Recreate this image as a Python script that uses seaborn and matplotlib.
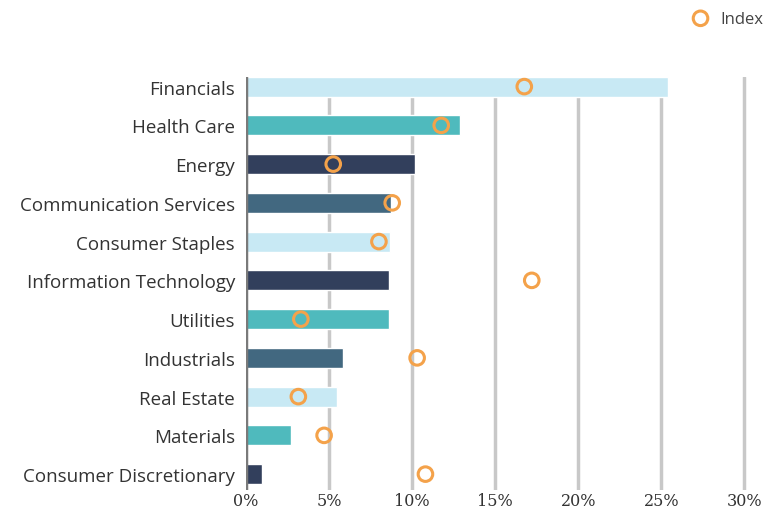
import seaborn as sns
import pandas as pd
import matplotlib.pyplot as plt

sectors = ["Financials", "Health Care", "Energy", "Communication Services",
           "Consumer Staples", "Information Technology", "Utilities",
           "Industrials", "Real Estate", "Materials", "Consumer Discretionary"]
fund = [25.4, 12.9, 10.2, 8.75, 8.65, 8.6, 8.6, 5.85, 5.5, 2.7, 0.95]
index = [16.75, 11.75, 5.25, 8.8, 8.0, 17.2, 3.3, 10.3, 3.15, 4.7, 10.8]
bar_colors = ["#c8e9f4", "#4fbabd", "#323f5c", "#426880",
              "#c8e9f4", "#323f5c", "#4fbabd", "#426880",
              "#c8e9f4", "#4fbabd", "#323f5c"]
xticks = [0, 5, 10, 15, 20, 25, 30]

df = pd.DataFrame({"sector": sectors, "fund": fund, "index": index})

sns.set_theme(style="white")
plt.rcParams["font.family"] = ["Open Sans", "DejaVu Sans"]

fig = plt.figure(figsize=(7.65, 5.10), dpi=100)
ax = fig.add_axes([0.3216, 0.038, 0.658, 0.810])

sns.barplot(data=df, x="fund", y="sector", hue="sector", palette=bar_colors,
            legend=False, width=0.52, saturation=1, ax=ax, zorder=2)
sns.scatterplot(data=df, x="index", y="sector", ax=ax, s=110,
                facecolor="none", edgecolor="#f4a24a", linewidth=2.2,
                zorder=4, label="Index")

ax.set_xlim(0, 30.3)
ax.set_ylim(10.4, -0.26)
ax.set_xticks(xticks)
ax.set_xticklabels([f"{t}%" for t in xticks], family="DejaVu Serif",
                   fontsize=11.5, color="#333333")
ax.tick_params(axis="y", labelsize=13.5, labelcolor="#333333", length=0, pad=8)
ax.tick_params(axis="x", length=0, pad=2)
ax.set_xlabel("")
ax.set_ylabel("")
for t in xticks[1:]:
    ax.axvline(t, color="#c8c8c8", linewidth=2.5, zorder=1)
ax.axvline(0, color="#7a7a7a", linewidth=2.5, zorder=3)
for s in ax.spines.values():
    s.set_visible(False)

leg = ax.legend(loc="center left", bbox_to_anchor=(0.84, 1.14), frameon=False,
                fontsize=12, handletextpad=0.2)
for txt in leg.get_texts():
    txt.set_color("#444444")

fig.savefig("out.png", dpi=100)
